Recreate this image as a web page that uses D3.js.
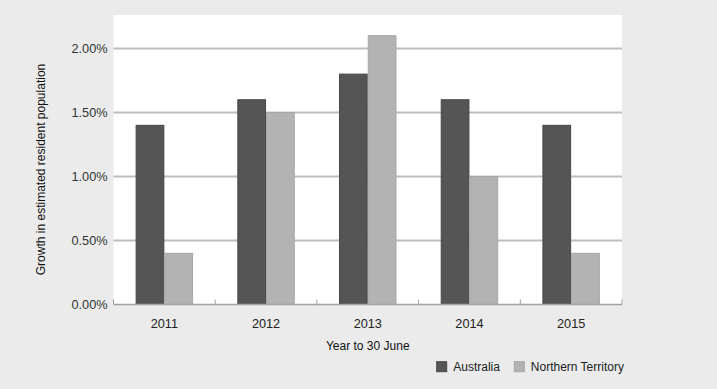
<!DOCTYPE html>
<html>
  <head>
    <meta charset="utf-8"/>
    <title>Growth in estimated resident population</title>
    <style>
      body { margin: 0; background: #ebebeb; }
      svg text { font-family: "Liberation Sans", Arial, sans-serif; }
    </style>
  </head>
  <body>
  <script src="https://d3js.org/d3.v7.js"></script>
  <div id="chart"></div>

  <script>
  // data
  var years = ["2011", "2012", "2013", "2014", "2015"];
  var seriesNames = ["Australia", "Northern Territory"];
  var australia = [1.4, 1.6, 1.8, 1.6, 1.4];
  var northernTerritory = [0.4, 1.5, 2.1, 1.0, 0.4];
  var yTicks = [0, 0.5, 1.0, 1.5, 2.0];

  var colors = {"Australia": "#555555", "Northern Territory": "#b3b3b3"};
  var strokes = {"Australia": "#474747", "Northern Territory": "#a6a6a6"};

  var W = 717, H = 389;
  var margin = {top: 15, right: 95, bottom: 84.5, left: 113.5},
      width = W - margin.left - margin.right,
      height = H - margin.top - margin.bottom;

  var svg = d3.select("#chart")
    .append("svg")
      .attr("width", W)
      .attr("height", H);

  svg.append("rect")
    .attr("width", W).attr("height", H)
    .attr("fill", "#ebebeb");

  var g = svg.append("g")
    .attr("transform", "translate(" + margin.left + "," + margin.top + ")");

  // white plot area
  g.append("rect")
    .attr("width", width).attr("height", height)
    .attr("fill", "#ffffff");

  var x0 = d3.scaleBand().domain(years).range([0, width]);
  var x1 = d3.scaleBand().domain(seriesNames)
    .range([0, x0.bandwidth()])
    .paddingInner(0).paddingOuter(0.77);
  var y = d3.scaleLinear().domain([0, 2.262]).range([height, 0]);

  // gridlines
  g.selectAll(".grid")
    .data(yTicks.filter(d => d > 0))
    .enter().append("line")
      .attr("x1", 0).attr("x2", width)
      .attr("y1", d => y(d)).attr("y2", d => y(d))
      .attr("stroke", "#bdbdbd")
      .attr("stroke-width", 2);

  // y tick labels
  g.selectAll(".ylab")
    .data(yTicks)
    .enter().append("text")
      .attr("x", -6)
      .attr("y", d => y(d))
      .attr("dy", "0.35em")
      .attr("text-anchor", "end")
      .attr("font-size", 12.7)
      .attr("fill", "#333")
      .text(d => d.toFixed(2) + "%");

  // bars
  var rows = years.map((yr, i) => ({
    year: yr,
    values: [
      {key: "Australia", value: australia[i]},
      {key: "Northern Territory", value: northernTerritory[i]}
    ]
  }));

  var groups = g.selectAll(".yr")
    .data(rows)
    .enter().append("g")
      .attr("transform", d => "translate(" + x0(d.year) + ",0)");

  groups.selectAll("rect")
    .data(d => d.values)
    .enter().append("rect")
      .attr("x", d => x1(d.key) + 0.5)
      .attr("y", d => y(d.value))
      .attr("width", x1.bandwidth() - 1)
      .attr("height", d => height - y(d.value))
      .attr("fill", d => colors[d.key])
      .attr("stroke", d => strokes[d.key])
      .attr("stroke-width", 1);

  // x axis: baseline with inward ticks at band edges
  var xAxis = g.append("g").attr("transform", "translate(0," + height + ")");
  xAxis.append("line")
    .attr("x1", 0).attr("x2", width)
    .attr("stroke", "#a0a0a0").attr("stroke-width", 1.5);
  xAxis.selectAll(".tick")
    .data(years.map(d => x0(d)).concat([width]))
    .enter().append("line")
      .attr("x1", d => d).attr("x2", d => d)
      .attr("y1", 0).attr("y2", -5)
      .attr("stroke", "#a0a0a0").attr("stroke-width", 1);
  xAxis.selectAll(".xlab")
    .data(years)
    .enter().append("text")
      .attr("x", d => x0(d) + x0.bandwidth() / 2)
      .attr("y", 23.5)
      .attr("text-anchor", "middle")
      .attr("font-size", 12.7)
      .attr("fill", "#222")
      .text(d => d);

  // axis titles
  svg.append("text")
    .attr("x", margin.left + width / 2)
    .attr("y", 350)
    .attr("text-anchor", "middle")
    .attr("font-size", 12)
    .attr("fill", "#111")
    .text("Year to 30 June");

  svg.append("text")
    .attr("transform", "translate(45,169.5) rotate(-90)")
    .attr("text-anchor", "middle")
    .attr("font-size", 12)
    .attr("fill", "#111")
    .text("Growth in estimated resident population");

  // legend
  var legendX = [436.7, 514.3];
  var legend = svg.selectAll(".legend")
    .data(seriesNames)
    .enter().append("g")
      .attr("transform", (d, i) => "translate(" + legendX[i] + ",361.7)");
  legend.append("rect")
    .attr("width", 10).attr("height", 10)
    .attr("fill", d => colors[d])
    .attr("stroke", d => strokes[d]);
  legend.append("text")
    .attr("x", 16.5).attr("y", 5.5)
    .attr("dy", "0.35em")
    .attr("font-size", 12)
    .attr("fill", "#222")
    .text(d => d);
  </script>
  </body>
</html>
